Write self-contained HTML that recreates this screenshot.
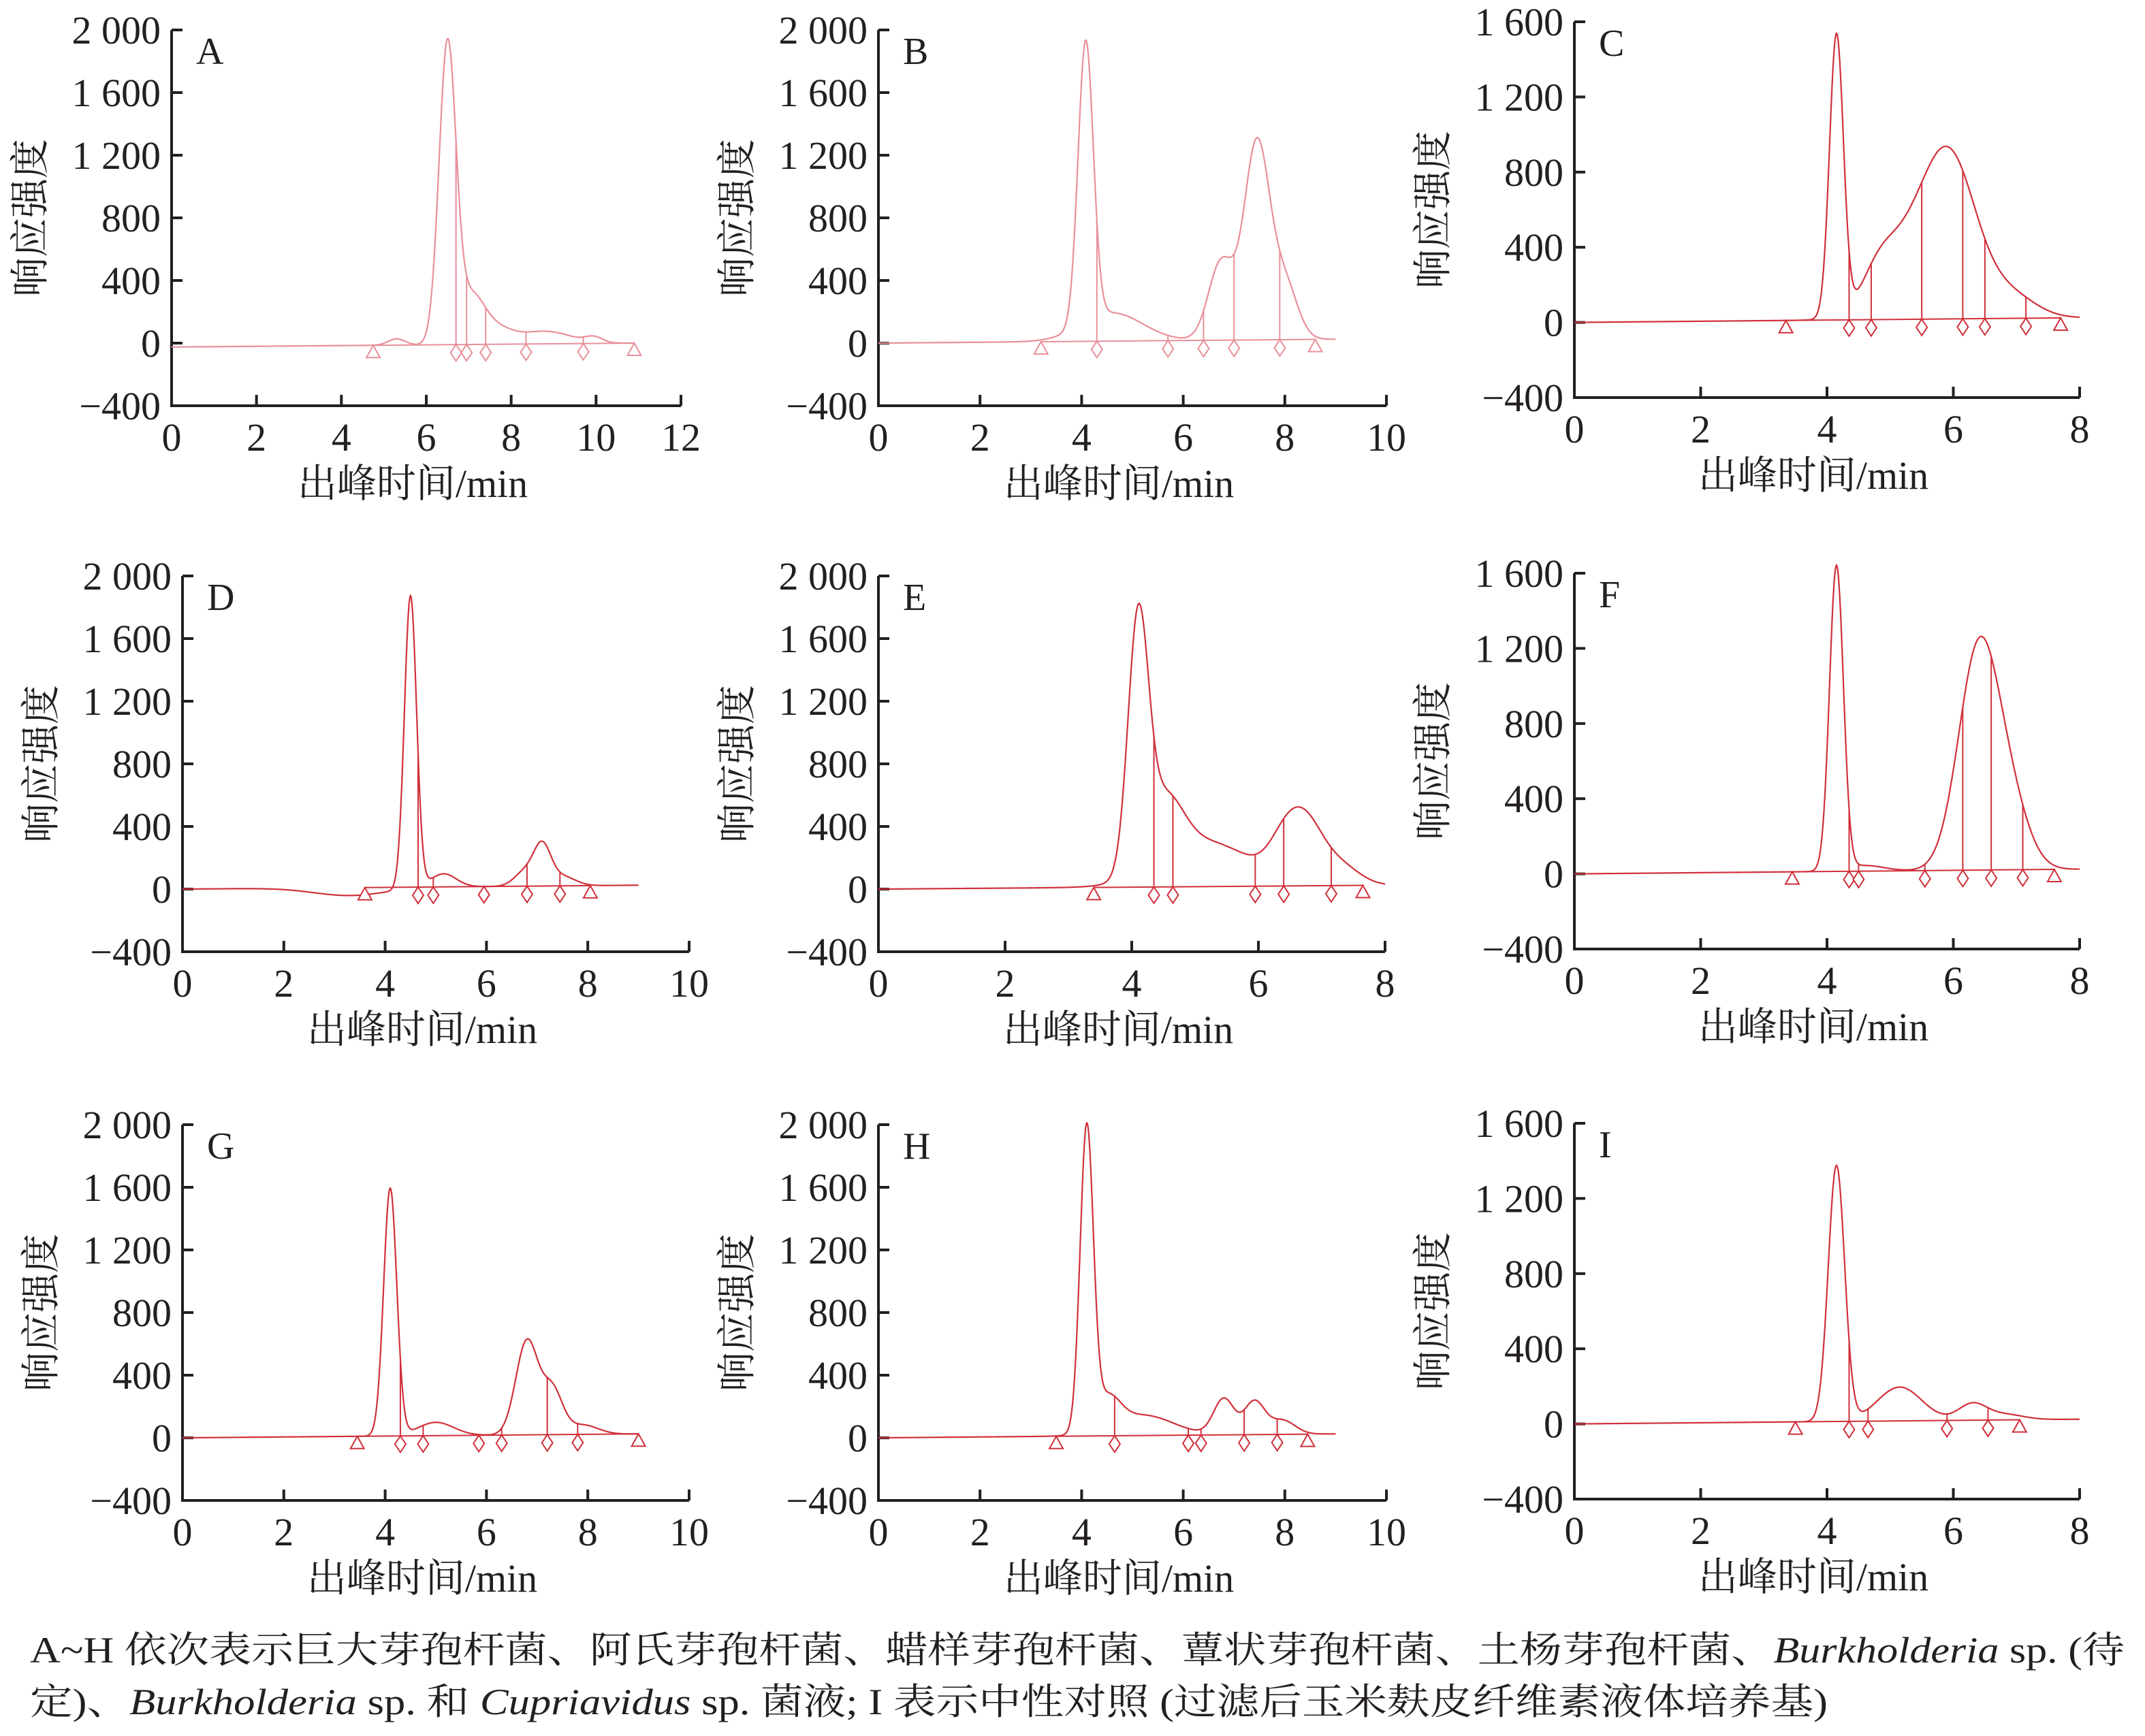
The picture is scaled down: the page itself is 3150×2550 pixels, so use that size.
<!DOCTYPE html>
<html><head><meta charset="utf-8"><style>
html,body{margin:0;padding:0;background:#fff;}
svg{display:block;}
text{font-family:"Liberation Serif","Noto Serif CJK SC","Noto Sans CJK SC",serif;fill:#231f20;}
</style></head><body>
<svg id="s" width="3150" height="2550" viewBox="0 0 1575 1275" xmlns="http://www.w3.org/2000/svg">
<text x="22" y="1221" font-size="27" textLength="1538" lengthAdjust="spacingAndGlyphs">A~H 依次表示巨大芽孢杆菌、阿氏芽孢杆菌、蜡样芽孢杆菌、蕈状芽孢杆菌、土杨芽孢杆菌、<tspan font-style="italic">Burkholderia</tspan> sp. (待</text>
<text x="22" y="1259" font-size="27" textLength="1320" lengthAdjust="spacingAndGlyphs">定)、<tspan font-style="italic">Burkholderia</tspan> sp. 和 <tspan font-style="italic">Cupriavidus</tspan> sp. 菌液; I 表示中性对照  (过滤后玉米麸皮纤维素液体培养基)</text>
</svg>
<script>
const NS="http://www.w3.org/2000/svg",S=document.getElementById('s');
function el(t,a,txt){const e=document.createElementNS(NS,t);for(const k in a)e.setAttribute(k,a[k]);if(txt!==undefined)e.textContent=txt;S.appendChild(e);return e;}
const P=[
{L:'A',x0:126,x1:500,y0:22,y1:298,xm:12,ymax:2000,c:'#e8909a',end:10.9,
 pk:[[6.5,1900,0.2],[5.3,40,0.2],[7.05,280,0.3],[7.6,100,0.4],[8.8,80,0.6],[9.95,35,0.2]],d:[6.7,6.95,7.4,8.35,9.7],t:[4.75,10.9],b0:-25},
{L:'B',x0:645,x1:1018,y0:22,y1:298,xm:10,ymax:2000,c:'#e8909a',end:9,
 pk:[[4.08,1800,0.15],[4.6,180,0.6],[6.75,500,0.25],[7.45,1250,0.25],[8.0,350,0.25]],d:[4.3,5.7,6.4,7.0,7.9],t:[3.2,8.6],b0:0},
{L:'C',x0:1156,x1:1527,y0:16,y1:292,xm:8,ymax:1600,c:'#d0303a',end:8,
 pk:[[4.15,1500,0.11],[4.8,120,0.25],[5.95,820,0.42],[5.2,330,0.45],[6.9,120,0.4]],d:[4.35,4.7,5.5,6.15,6.5,7.15],t:[3.35,7.7],b0:0},
{L:'D',x0:134,x1:506,y0:423,y1:699,xm:10,ymax:2000,c:'#d0303a',end:9,
 pk:[[4.5,1870,0.12],[5.15,85,0.25],[6.75,90,0.2],[7.1,250,0.17],[7.5,60,0.25],[3.3,-50,0.7]],d:[4.65,4.95,5.95,6.8,7.45],t:[3.6,8.05],b0:0},
{L:'E',x0:645,x1:1017,y0:423,y1:699,xm:8,ymax:2000,c:'#d0303a',end:8,
 pk:[[4.1,1550,0.16],[4.5,420,0.3],[5.2,280,0.7],[6.4,200,0.25],[6.75,360,0.28],[7.3,120,0.3]],d:[4.35,4.65,5.95,6.4,7.15],t:[3.4,7.65],b0:0},
{L:'F',x0:1156,x1:1527,y0:421,y1:697,xm:8,ymax:1600,c:'#d0303a',end:8,
 pk:[[4.15,1620,0.11],[6.4,1160,0.32],[6.9,300,0.3],[4.6,30,0.3]],d:[4.35,4.5,5.55,6.15,6.6,7.1],t:[3.45,7.6],b0:0},
{L:'G',x0:134,x1:506,y0:826,y1:1102,xm:10,ymax:2000,c:'#d0303a',end:9,
 pk:[[4.1,1580,0.13],[5.0,85,0.35],[6.8,600,0.22],[7.3,280,0.2],[7.9,60,0.3]],d:[4.3,4.75,5.85,6.3,7.2,7.8],t:[3.45,9],b0:0},
{L:'H',x0:645,x1:1018,y0:826,y1:1102,xm:10,ymax:2000,c:'#d0303a',end:9,
 pk:[[4.1,1920,0.13],[4.5,200,0.25],[5.2,130,0.6],[6.8,230,0.2],[7.4,210,0.2],[7.95,90,0.25]],d:[4.65,6.1,6.35,7.2,7.85],t:[3.5,8.45],b0:0},
{L:'I',x0:1156,x1:1527,y0:825,y1:1101,xm:8,ymax:1600,c:'#d0303a',end:8,
 pk:[[4.15,1360,0.13],[5.15,180,0.35],[6.3,85,0.22],[6.8,30,0.3]],d:[4.35,4.65,5.9,6.55],t:[3.5,7.05],b0:0}
];
P.forEach(p=>{
 const ymin=-400,n=(p.ymax-ymin)/400;
 const X=v=>p.x0+(p.x1-p.x0)*v/p.xm, Y=v=>p.y1-(p.y1-p.y0)*(v-ymin)/(p.ymax-ymin);
 const base=v=>p.b0+ (v/p.end)*25;
 const f=v=>{let s=base(v);p.pk.forEach(q=>s+=q[1]*Math.exp(-((v-q[0])**2)/(2*q[2]*q[2])));return s;};
 el('path',{d:`M${p.x0} ${p.y0}V${p.y1}H${p.x1}`,fill:'none',stroke:'#231f20','stroke-width':2});
 for(let i=0;i<=n;i++){const v=ymin+400*i,y=Y(v);el('line',{x1:p.x0,y1:y,x2:p.x0+8,y2:y,stroke:'#231f20','stroke-width':2});
  let s=v<0?'\u2212400':(v>=1000?(''+v).replace(/^(\d)/,'$1 '):''+v);
  el('text',{x:p.x0-8,y:y+10,'font-size':29,'text-anchor':'end'},s);}
 for(let v=0;v<=p.xm;v+=2){const x=X(v);el('line',{x1:x,y1:p.y1,x2:x,y2:p.y1-8,stroke:'#231f20','stroke-width':2});
  el('text',{x:x,y:p.y1+33,'font-size':29,'text-anchor':'middle'},''+v);}
 const cx=(p.x0+p.x1)/2;
 el('text',{x:cx-10,y:p.y1+67,'font-size':29,'text-anchor':'middle'},'出峰时间/min');
 const ly=(p.y0+p.y1)/2, lx=p.x0-94;
 el('text',{x:lx,y:ly,'font-size':29,'text-anchor':'middle',transform:`rotate(-90 ${lx} ${ly})`},'响应强度');
 el('text',{x:p.x0+18,y:p.y0+25,'font-size':28},p.L);
 let d='';for(let v=0;v<=p.end;v+=0.01){d+=(d?'L':'M')+X(v).toFixed(2)+' '+Y(f(v)).toFixed(2);}
 el('path',{d,fill:'none',stroke:p.c,'stroke-width':1.1});
 el('line',{x1:X(p.t[0]),y1:Y(base(p.t[0])),x2:X(p.t[1]),y2:Y(base(p.t[1])),stroke:p.c,'stroke-width':1});
 p.d.forEach(v=>{const x=X(v),yb=Y(base(v));el('line',{x1:x,y1:Y(f(v)),x2:x,y2:yb,stroke:p.c,'stroke-width':1});
  el('path',{d:`M${x} ${yb}l4 6l-4 6l-4 -6z`,fill:'#fff',stroke:p.c,'stroke-width':1});});
 p.t.forEach(v=>{const x=X(v),yb=Y(base(v));el('path',{d:`M${x} ${yb}l5 9h-10z`,fill:'#fff',stroke:p.c,'stroke-width':1});});
});
</script>
</body></html>
